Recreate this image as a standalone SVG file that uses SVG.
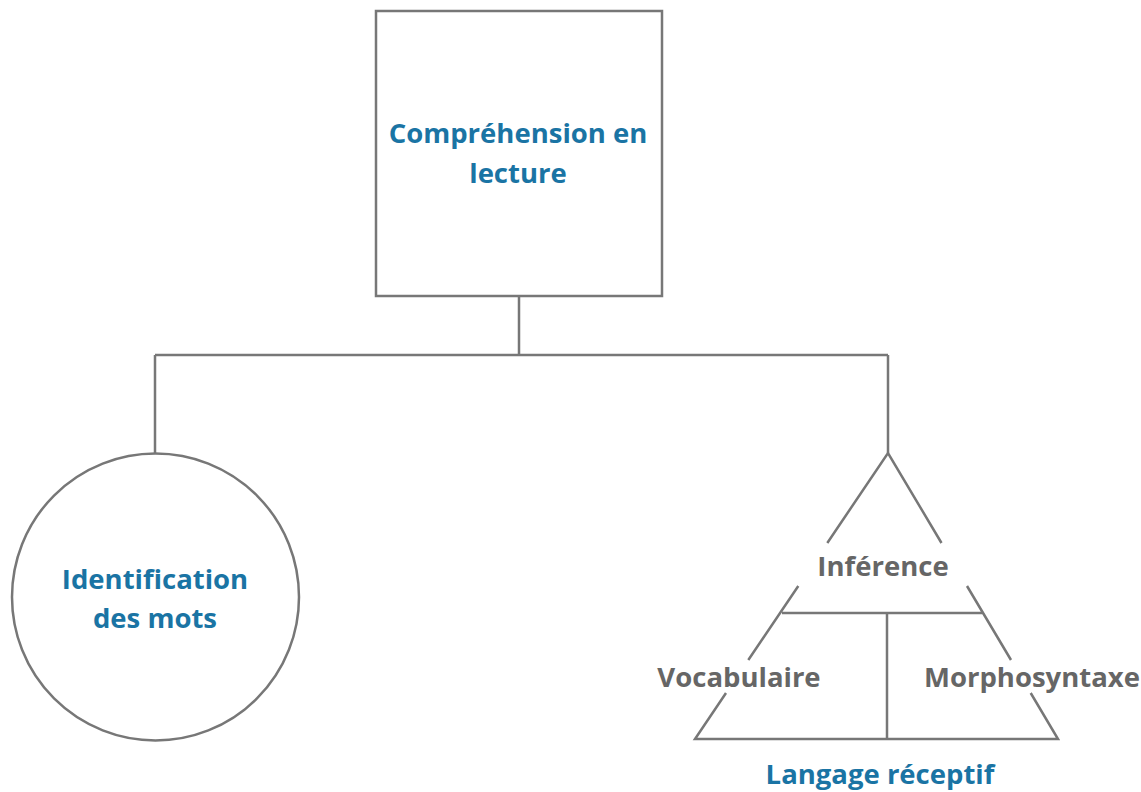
<svg xmlns="http://www.w3.org/2000/svg" width="1141" height="792" viewBox="0 0 1141 792">
<style>
.ln{fill:none;stroke:#777;stroke-width:2.5}
.t{font-family:"Open Sans","Liberation Sans",sans-serif;font-weight:bold;font-size:27.5px;text-anchor:middle}
.b{fill:#1a74a4}
.g{fill:#666}
</style>
<rect width="1141" height="792" fill="#fff"/>
<g id="connectors">
<path class="ln" d="M519,296 V355 M155,355 H888 M155,355 V454 M888,355 V453"/>
</g>
<g id="node-comprehension">
<rect class="ln" x="376" y="11" width="286" height="285"/>
<text class="t b" x="518" y="143">Compréhension en</text>
<text class="t b" x="518" y="183">lecture</text>
</g>
<g id="node-identification">
<circle class="ln" cx="155.5" cy="597" r="143.5"/>
<text class="t b" x="155" y="589">Identification</text>
<text class="t b" x="155" y="628">des mots</text>
</g>
<g id="node-langage">
<path class="ln" d="M827.3,543 L888,453 L941.5,543 M798.3,586 L748.3,660 M726,693 L695,739 H1058 L1030.7,693 M1011,660 L967,586 M782,613 H984 M887,613 V739"/>
<text class="t g" x="883" y="576">Inférence</text>
<text class="t g" x="739" y="687">Vocabulaire</text>
<text class="t g" x="1032" y="687">Morphosyntaxe</text>
<text class="t b" x="880" y="784">Langage réceptif</text>
</g>
</svg>
